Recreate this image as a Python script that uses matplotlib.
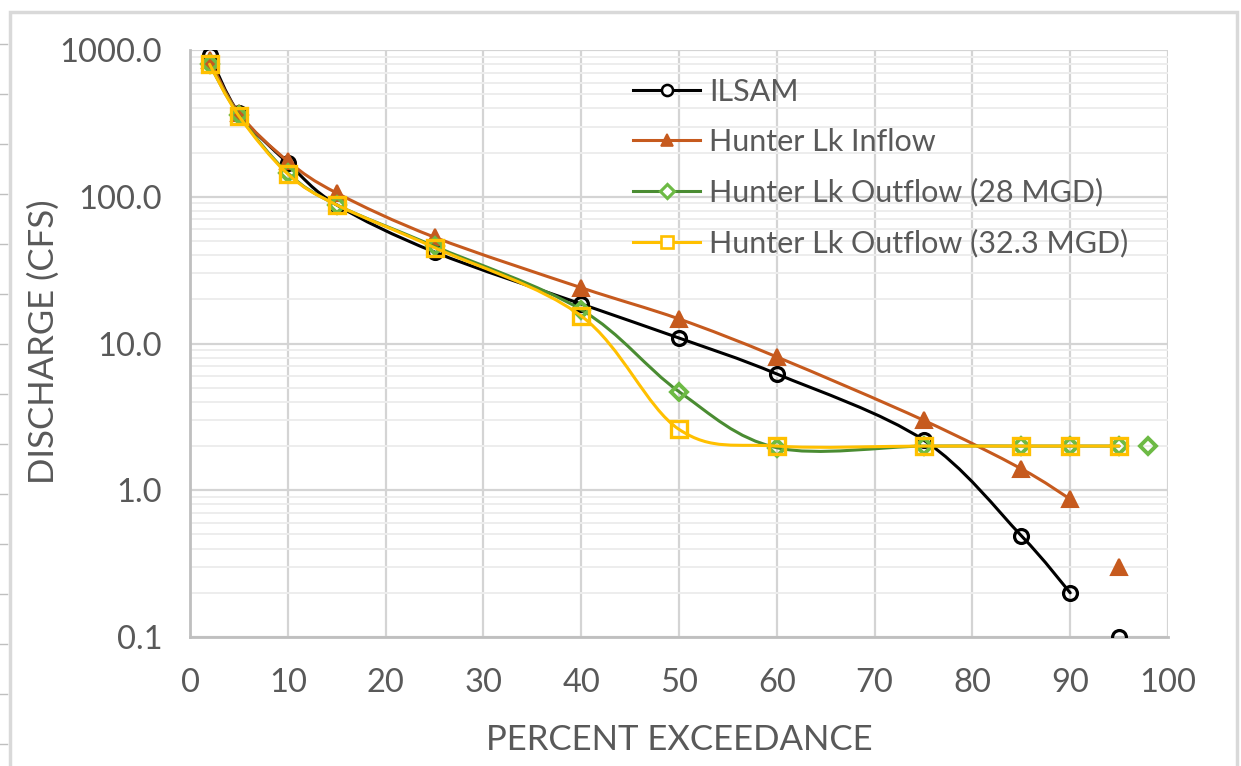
import numpy as np
import matplotlib
matplotlib.use("Agg")
import matplotlib.pyplot as plt
from matplotlib.path import Path
from matplotlib.patches import PathPatch, Rectangle
from matplotlib.lines import Line2D
from matplotlib.ticker import FixedLocator, FuncFormatter, LogLocator, NullFormatter

# ---------------- data ----------------
pct = [2, 5, 10, 15, 25, 40, 50, 60, 75, 85, 90, 95]

ilsam = [920, 370, 170, 88, 42, 18.6, 10.9, 6.2, 2.2, 0.49, 0.2, None]
ilsam_iso_x = [95]
ilsam_iso_y = [0.1]

inflow = [850, 370, 175, 106, 53, 24, 14.7, 8.1, 3.0, 1.4, 0.87, None]
inflow_iso_x = [95]
inflow_iso_y = [0.3]

out28 = [800, 360, 145, 88, 46, 17, 4.7, 1.95, 2.0, 2.0, 2.0, 2.0]
out28_iso_x = [98]
out28_iso_y = [2.0]

out323 = [800, 355, 143, 88, 45, 15.4, 2.6, 2.0, 2.0, 2.0, 2.0, 2.0]

series_names = ["ILSAM", "Hunter Lk Inflow", "Hunter Lk Outflow (28 MGD)",
                "Hunter Lk Outflow (32.3 MGD)"]

x_ticks = list(range(0, 101, 10))
y_ticks = [0.1, 1, 10, 100, 1000]

# ---------------- style ----------------
FONT = ["Lato", "DejaVu Sans"]
plt.rcParams["font.family"] = FONT
TXT = "#595959"

W, H = 1241, 766
fig = plt.figure(figsize=(W / 100, H / 100), dpi=100)
fig.patch.set_facecolor("white")
ax = fig.add_axes([190 / W, 1 - 637 / H, (1168 - 190) / W, (637 - 50) / H])


def smooth_path(xs, ys):
    """Excel-like smoothed line: cubic Bezier (Catmull-Rom) in (x, log y)."""
    pts = [(x, np.log10(y)) for x, y in zip(xs, ys) if y is not None]
    pts = np.array(pts, dtype=float)
    verts = [pts[0]]
    codes = [Path.MOVETO]
    n = len(pts)
    for i in range(n - 1):
        p0 = pts[i - 1] if i > 0 else pts[i]
        p1 = pts[i]
        p2 = pts[i + 1]
        p3 = pts[i + 2] if i + 2 < n else pts[i + 1]
        c1 = p1 + (p2 - p0) / 6.0
        c2 = p2 - (p3 - p1) / 6.0
        verts += [c1, c2, p2]
        codes += [Path.CURVE4] * 3
    verts = np.array(verts)
    verts[:, 1] = 10 ** verts[:, 1]
    return Path(verts, codes)


specs = [
    dict(y=ilsam, ix=ilsam_iso_x, iy=ilsam_iso_y, lc="#000000", m="o", mfc="none",
         mec="#000000", ms=10, mew=2.3),
    dict(y=inflow, ix=inflow_iso_x, iy=inflow_iso_y, lc="#C65A1E", m="^", mfc="#C65A1E",
         mec="#C65A1E", ms=11.5, mew=1.5),
    dict(y=out28, ix=out28_iso_x, iy=out28_iso_y, lc="#4A8C32", m="D", mfc="none",
         mec="#6DBA45", ms=8.5, mew=2.8),
    dict(y=out323, ix=[], iy=[], lc="#FFC000", m="s", mfc="none",
         mec="#FFC000", ms=11.5, mew=2.4),
]

handles = []
for k, s in enumerate(specs):
    z = 3 + k
    path = smooth_path(pct, s["y"])
    ax.add_patch(PathPatch(path, fill=False, edgecolor=s["lc"], lw=2.2,
                           transform=ax.transData, zorder=z, capstyle="round",
                           joinstyle="round"))
    xm = [x for x, y in zip(pct, s["y"]) if y is not None] + list(s["ix"])
    ym = [y for y in s["y"] if y is not None] + list(s["iy"])
    ax.plot(xm, ym, ls="none", marker=s["m"], mfc=s["mfc"], mec=s["mec"],
            ms=s["ms"], mew=s["mew"], zorder=z + 0.5)
    handles.append(Line2D([], [], color=s["lc"], lw=2.2, marker=s["m"],
                          mfc=("white" if s["mfc"] == "none" else s["mfc"]),
                          mec=s["mec"], ms=s["ms"] * 0.8, mew=s["mew"] * 0.8))

# ---------------- axes ----------------
ax.set_yscale("log")
ax.set_xlim(0, 100)
ax.set_ylim(0.1, 1000)
ax.xaxis.set_major_locator(FixedLocator(x_ticks))
ax.yaxis.set_major_locator(FixedLocator(y_ticks))
ax.yaxis.set_minor_locator(LogLocator(base=10, subs=np.arange(2, 10)))
ax.yaxis.set_minor_formatter(NullFormatter())
ax.yaxis.set_major_formatter(FuncFormatter(lambda v, p: f"{v:.1f}"))

ax.grid(which="major", axis="both", color="#D4D4D4", lw=1.6, zorder=0)
ax.grid(which="minor", axis="y", color="#EDEDED", lw=1.4, zorder=0)
ax.set_axisbelow(True)
ax.tick_params(which="both", length=0)
ax.tick_params(axis="x", labelsize=23.5, labelcolor=TXT, pad=22)
ax.tick_params(axis="y", labelsize=23.5, labelcolor=TXT, pad=20)
for sp in ["top", "right"]:
    ax.spines[sp].set_visible(False)
for sp in ["left", "bottom"]:
    ax.spines[sp].set_color("#BFBFBF")
    ax.spines[sp].set_linewidth(2.0)

fig.text(679 / W, 1 - 740 / H, "PERCENT EXCEEDANCE", fontsize=25, color=TXT,
         ha="center", va="center")
fig.text(44 / W, 1 - 342 / H, "DISCHARGE (CFS)", fontsize=25, color=TXT,
         ha="center", va="center", rotation=90)

leg = ax.legend(handles, series_names, loc="upper left",
                bbox_to_anchor=(633 / W, 1 - 78 / H), bbox_transform=fig.transFigure,
                frameon=False, fontsize=22, handlelength=2.2, handletextpad=0.3,
                labelspacing=0.72, borderpad=0, borderaxespad=0)
for t in leg.get_texts():
    t.set_color(TXT)

# chart border and page ruler ticks
fig.add_artist(Rectangle((10 / W, -0.05), (W - 14) / W, 1 - 12 / H + 0.05,
                         transform=fig.transFigure, fill=False,
                         edgecolor="#D9D9D9", lw=2.5))
for yy in range(44, 766, 50):
    fig.add_artist(Line2D([0, 7 / W], [1 - yy / H, 1 - yy / H],
                          transform=fig.transFigure, color="#BFBFBF", lw=1))

fig.savefig("out.png", dpi=100)
